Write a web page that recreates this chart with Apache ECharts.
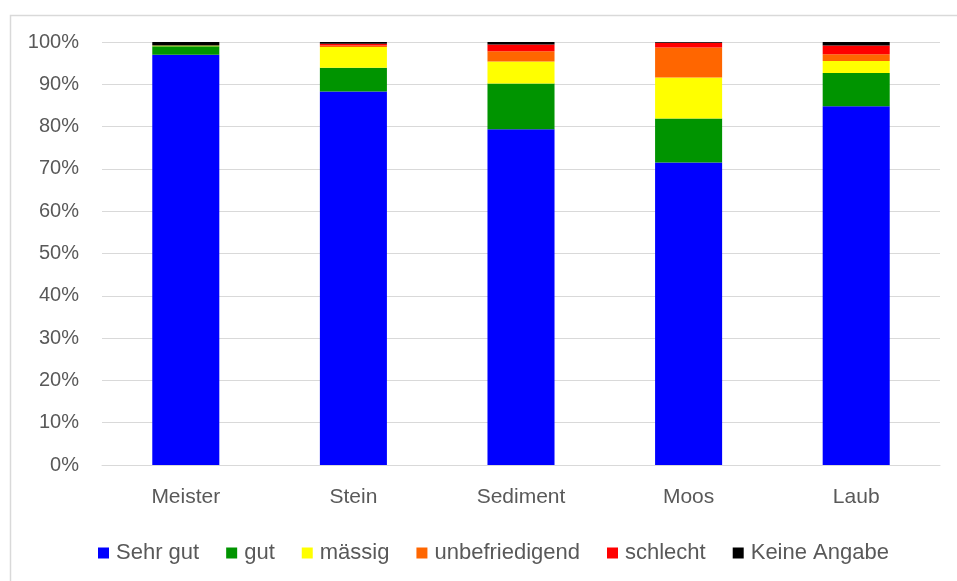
<!DOCTYPE html>
<html>
<head>
<meta charset="utf-8">
<script src="https://cdn.jsdelivr.net/npm/echarts@6/dist/echarts.min.js"></script>
<style>
  html, body { margin: 0; padding: 0; background: #ffffff; }
  #chart { width: 957px; height: 581px; }
</style>
</head>
<body>
<div id="chart"></div>
<script>
// Sample sites (x axis)
const categories = ['Meister', 'Stein', 'Sediment', 'Moos', 'Laub'];

// Share of ratings per site, in percent
const sehrGut       = [97.0, 88.3, 79.4, 71.5, 84.8];
const gut           = [2.0,  5.6, 10.8, 10.4,  7.9];
const maessig       = [0.2,  4.9,  5.2,  9.7,  2.8];
const unbefriedigend = [0.0,  0.4,  2.4,  7.1,  1.6];
const schlecht      = [0.0,  0.4,  1.6,  1.1,  2.1];
const keineAngabe   = [0.8,  0.4,  0.6,  0.2,  0.8];

// Y axis tick values (percent)
const yTicks = [0, 10, 20, 30, 40, 50, 60, 70, 80, 90, 100];

const seriesDefs = [
  { name: 'Sehr gut', data: sehrGut, color: '#0000ff' },
  { name: 'gut', data: gut, color: '#009400' },
  { name: 'mässig', data: maessig, color: '#ffff00' },
  { name: 'unbefriedigend', data: unbefriedigend, color: '#ff6600' },
  { name: 'schlecht', data: schlecht, color: '#ff0000' },
  { name: 'Keine Angabe', data: keineAngabe, color: '#000000' }
];

const FONT = '"Liberation Sans", Arial, sans-serif';
const TEXT = '#595959';

const chart = echarts.init(document.getElementById('chart'), null, { renderer: 'canvas' });

chart.setOption({
  animation: false,
  backgroundColor: '#ffffff',
  textStyle: { fontFamily: FONT },
  graphic: [{
    type: 'rect',
    left: 8, top: 13,
    shape: { width: 980, height: 600 },
    style: { fill: 'none', stroke: '#d9d9d9', lineWidth: 1.5 },
    silent: true
  }],
  grid: { left: 102, right: 17, top: 42, bottom: 116, containLabel: false },
  legend: {
    left: 93,
    top: 537,
    itemWidth: 11,
    itemHeight: 11,
    itemGap: 27,
    icon: 'rect',
    textStyle: { color: TEXT, fontSize: 22, fontFamily: FONT, padding: [0, 0, 0, 2] },
    data: seriesDefs.map(s => s.name)
  },
  xAxis: {
    type: 'category',
    data: categories,
    axisLine: { show: true, lineStyle: { color: '#d9d9d9', width: 1 } },
    axisTick: { show: false },
    axisLabel: { color: TEXT, fontSize: 21, fontFamily: FONT, margin: 22 }
  },
  yAxis: {
    type: 'value',
    min: yTicks[0],
    max: yTicks[yTicks.length - 1],
    interval: yTicks[1] - yTicks[0],
    axisLine: { show: false },
    axisTick: { show: false },
    splitLine: { lineStyle: { color: '#d9d9d9', width: 1 } },
    axisLabel: {
      color: TEXT, fontSize: 20, fontFamily: FONT, margin: 23,
      formatter: v => v + '%'
    }
  },
  series: seriesDefs.map(s => ({
    name: s.name,
    type: 'bar',
    stack: 'total',
    barWidth: '40%',
    data: s.data,
    itemStyle: { color: s.color },
    emphasis: { disabled: true }
  }))
});
</script>
</body>
</html>
